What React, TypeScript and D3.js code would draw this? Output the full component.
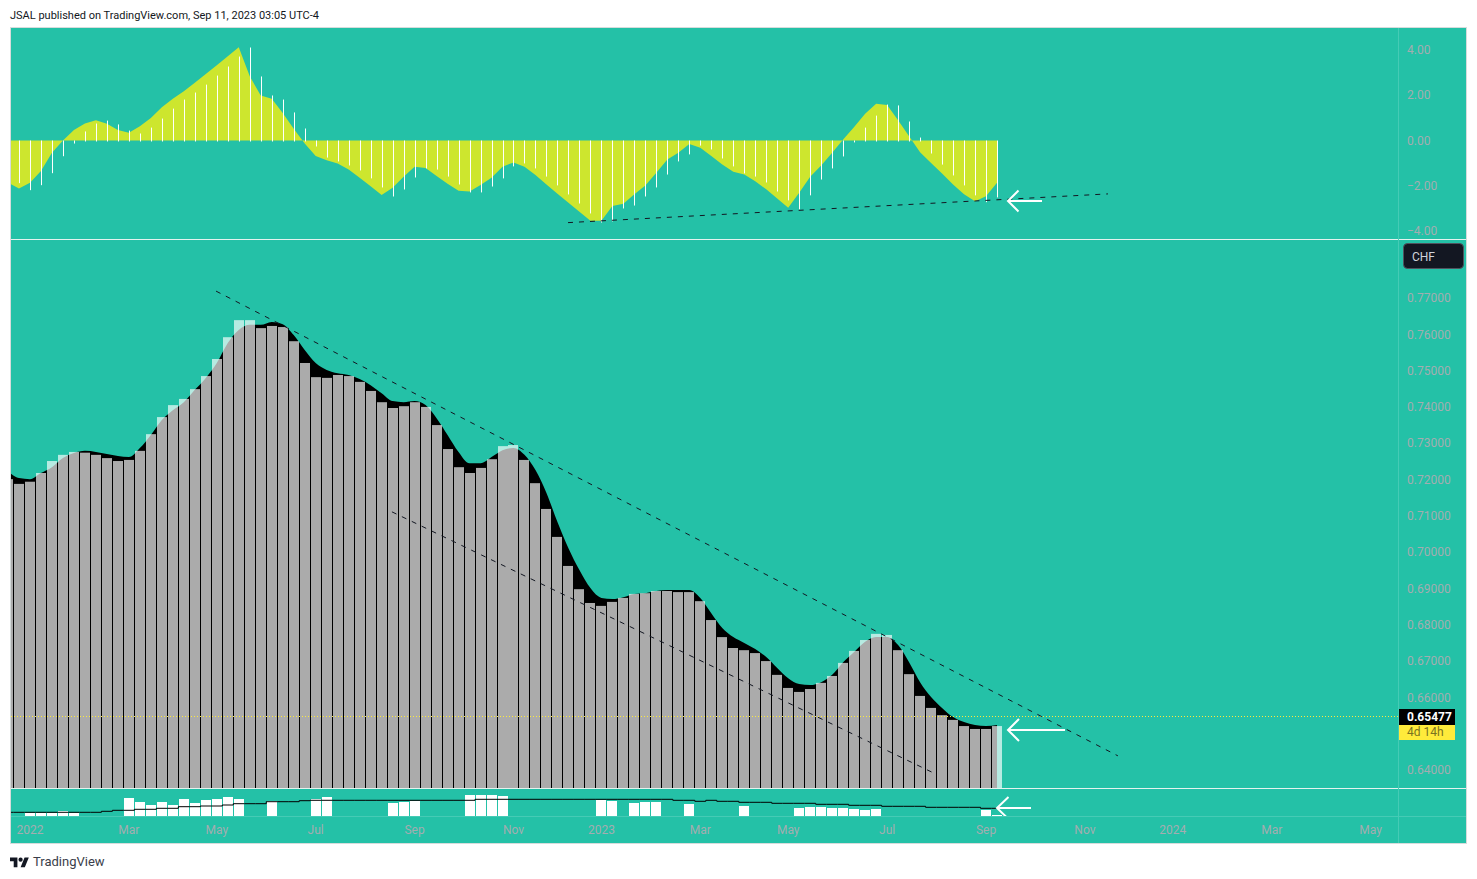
import * as d3 from 'd3';

const WIDTH = 1477;
const HEIGHT = 879;

// weekly bars
const barTops = [
    0.7201, 0.7188, 0.7194, 0.7218, 0.7251, 0.7268, 0.7276, 0.7274, 0.7268, 0.7259,
    0.7251, 0.7254, 0.7279, 0.7325, 0.7372, 0.7405, 0.7422, 0.7449, 0.7485, 0.7532,
    0.7592, 0.7639, 0.7639, 0.7617, 0.7623, 0.762, 0.7581, 0.7521, 0.7482, 0.748,
    0.7488, 0.7485, 0.7469, 0.7444, 0.7413, 0.7397, 0.7402, 0.7413, 0.74, 0.735,
    0.7284, 0.7234, 0.7218, 0.7232, 0.7256, 0.7292, 0.7295, 0.7254, 0.719, 0.7119,
    0.7042, 0.6962, 0.6898, 0.686, 0.6852, 0.6863, 0.6874, 0.6885, 0.6887, 0.6893,
    0.6893, 0.689, 0.689, 0.6865, 0.6813, 0.6766, 0.6736, 0.673, 0.6722, 0.67,
    0.6662, 0.6626, 0.6615, 0.6623, 0.664, 0.6659, 0.6695, 0.6728, 0.6758, 0.6775,
    0.6772, 0.673, 0.6664, 0.6604, 0.6571, 0.6551, 0.6538, 0.6521, 0.6513, 0.6513,
    0.6521,
];

const smoothed = [
    0.7223, 0.7204, 0.7201, 0.7218, 0.7234, 0.7259, 0.7273, 0.7279, 0.7276, 0.727,
    0.7265, 0.7262, 0.7287, 0.7323, 0.7364, 0.7391, 0.7413, 0.7447, 0.748, 0.7521,
    0.7576, 0.7612, 0.7626, 0.7626, 0.7634, 0.7628, 0.7598, 0.7557, 0.7521, 0.7502,
    0.7493, 0.7488, 0.7477, 0.746, 0.7438, 0.7416, 0.7413, 0.7416, 0.7405, 0.7369,
    0.7323, 0.7276, 0.7245, 0.7245, 0.7262, 0.7281, 0.7287, 0.7268, 0.7226, 0.7163,
    0.7083, 0.7011, 0.6951, 0.6901, 0.6874, 0.6871, 0.6876, 0.6885, 0.6887, 0.6893,
    0.6896, 0.6896, 0.6896, 0.6874, 0.6832, 0.6791, 0.6766, 0.675, 0.6733, 0.6711,
    0.6681, 0.6653, 0.6637, 0.6634, 0.6642, 0.6662, 0.6697, 0.6725, 0.6753, 0.6766,
    0.6766, 0.6744, 0.6697, 0.6642, 0.6601, 0.6571, 0.6546, 0.6532, 0.6524, 0.6521,
    0.6524,
];

const oscHist = [
    -1.6, -1.84, -2.15, -1.93, -1.4, -0.65, -0.09, 0.4, 0.75, 0.88,
    0.71, 0.44, 0.31, 0.57, 0.97, 1.41, 1.81, 2.12, 2.47, 2.87,
    3.27, 3.71, 4.11, 2.83, 1.99, 1.81, 1.24, 0.53, -0.22, -0.71,
    -0.88, -1.06, -1.28, -1.63, -2.03, -2.43, -2.12, -1.59, -1.19, -1.24,
    -1.55, -1.9, -2.25, -2.25, -1.99, -1.63, -1.1, -0.97, -1.19, -1.55,
    -1.94, -2.34, -2.74, -3.18, -3.58, -3.53, -2.96, -2.83, -2.43, -2.03,
    -1.46, -0.88, -0.57, -0.18, -0.35, -0.75, -1.1, -1.41, -1.55, -1.81,
    -2.21, -2.6, -3.0, -2.38, -1.68, -1.19, -0.66, -0.04, 0.57, 1.1,
    1.59, 1.55, 0.84, 0.13, -0.53, -1.02, -1.5, -1.94, -2.38, -2.68,
    -2.47,
];

const oscArea = [
    -1.87, -2.12, -1.87, -1.35, -0.54, 0, 0.46, 0.75, 0.9, 0.74,
    0.46, 0.34, 0.63, 1.0, 1.47, 1.85, 2.18, 2.55, 2.94, 3.33,
    3.72, 4.12, 2.84, 1.99, 1.84, 1.22, 0.52, -0.13, -0.69, -0.87,
    -1.02, -1.28, -1.65, -2.02, -2.41, -2.09, -1.6, -1.16, -1.22, -1.57,
    -1.91, -2.22, -2.25, -1.97, -1.65, -1.16, -0.97, -1.16, -1.53, -1.94,
    -2.35, -2.75, -3.15, -3.55, -3.55, -2.9, -2.8, -2.38, -1.99, -1.43,
    -0.84, -0.54, -0.16, -0.32, -0.69, -1.06, -1.38, -1.5, -1.8, -2.16,
    -2.56, -2.97, -2.31, -1.6, -1.1, -0.54, 0.04, 0.6, 1.18, 1.62,
    1.57, 0.9, 0.19, -0.52, -0.99, -1.46, -1.94, -2.38, -2.68, -2.46,
    -1.87,
];

const volume = [
    0, 0, 3, 3, 3, 5, 3, 0, 0, 0,
    0, 18, 14, 11, 14, 11, 17, 13, 16, 17,
    19, 17, 0, 0, 15, 0, 0, 0, 17, 19,
    0, 0, 0, 0, 0, 13, 14, 15, 0, 0,
    0, 0, 21, 21, 21, 20, 0, 0, 0, 0,
    0, 0, 0, 0, 16, 15, 0, 13, 14, 14,
    0, 0, 12, 0, 0, 0, 0, 10, 0, 0,
    0, 0, 8, 9, 9, 8, 8, 7, 6, 7,
    0, 0, 0, 0, 0, 0, 0, 0, 0, 6,
    1,
];

const volumeAvg = [
    3.7, 3.7, 3.7, 3.7, 3.7, 3.7, 3.7, 3.7, 3.7, 4.7,
    5.7, 5.7, 6.7, 6.7, 7.7, 7.7, 9.3, 9.3, 10, 10,
    11, 12.3, 12.3, 12.3, 14.3, 14.3, 14.3, 15.3, 15.7, 15.7,
    15.7, 15.7, 15.7, 15.7, 15.7, 15.7, 15.7, 15.7, 15.7, 15.7,
    15.7, 15.7, 15.7, 16.7, 16.7, 16.7, 16.7, 16.7, 16.7, 16.7,
    16.7, 16.7, 16.7, 16.7, 16.7, 16.7, 16.7, 16.7, 16.7, 16.7,
    16.7, 15.7, 15.7, 14.7, 15.7, 14.7, 14.7, 13.7, 13.7, 13.7,
    12.7, 12.7, 12.7, 12.7, 11.7, 11.7, 11.7, 10.7, 10.7, 10.7,
    9.7, 9.7, 9.7, 9.7, 8.7, 8.7, 8.7, 8.7, 8.7, 7.7,
    7.7,
];

const priceTicks = [0.77, 0.76, 0.75, 0.74, 0.73, 0.72, 0.71, 0.7, 0.69, 0.68, 0.67, 0.66, 0.64];
const oscTicks = [4, 2, 0, -2, -4];
const timeLabels = ['2022', 'Mar', 'May', 'Jul', 'Sep', 'Nov', '2023', 'Mar', 'May', 'Jul', 'Sep', 'Nov', '2024', 'Mar', 'May'];
const timeIndex = [2, 11, 19, 28, 37, 46, 54, 63, 71, 80, 89, 98, 106, 115, 124];

const lastPrice = 0.65477;

// trend lines as [bar index, value]
const oscTrend: [number, number][] = [[50.96, -3.63], [100.1, -2.36]];
const priceTrendUpper: [number, number][] = [[18.93, 0.7719], [101.0, 0.6439]];
const priceTrendLower: [number, number][] = [[34.94, 0.7111], [84.08, 0.6394]];

// hand drawn arrows: bar index of the tip, value, then barb and shaft lengths
const TEAL = '#24c1a7';
const LIME = '#cde62e';
const AXIS_TEXT = '#a3adb0';
const PANE_LINE = '#e4f3ef';
const FAINT = '#45cbb5';
const FONT = 'Roboto, sans-serif';

const x = d3.scaleLinear().domain([0, 90]).range([8, 997]);
const yOsc = d3.scaleLinear().domain([-4, 4]).range([231, 50]);
const yPrice = d3.scaleLinear().domain([0.64, 0.77]).range([770, 298]);
const yVol = d3.scaleLinear().domain([0, 27]).range([816, 789]);

const PRICE_BOTTOM = 789;

const blackArea = d3
    .area<number>()
    .x((_, i) => x(i))
    .y0(PRICE_BOTTOM)
    .y1((d) => yPrice(d))
    .curve(d3.curveMonotoneX);

const oscPath = d3
    .area<number>()
    .x((_, i) => x(i))
    .y0(yOsc(0))
    .y1((d) => yOsc(d));

const volLine = d3
    .line<number>()
    .x((_, i) => x(i))
    .y((d) => yVol(d))
    .curve(d3.curveStep);

function Arrow({ tipX, tipY, barbX, barbY, tail }: { tipX: number; tipY: number; barbX: number; barbY: number; tail: number }) {
    return (
        <path
            d={`M${tipX + tail},${tipY}H${tipX}M${tipX + barbX},${tipY - barbY}L${tipX},${tipY}L${tipX + barbX},${tipY + barbY}`}
            fill="none"
            stroke="#fff"
            strokeWidth={2}
        />
    );
}

function Trend({ pts, y }: { pts: [number, number][]; y: d3.ScaleLinear<number, number> }) {
    return (
        <line
            x1={x(pts[0][0])}
            y1={y(pts[0][1])}
            x2={x(pts[1][0])}
            y2={y(pts[1][1])}
            stroke="#131722"
            strokeWidth={1}
            strokeDasharray="5 6"
        />
    );
}

export default function App() {
    return (
        <svg
            width={WIDTH}
            height={HEIGHT}
            viewBox={`0 0 ${WIDTH} ${HEIGHT}`}
            style={{ position: 'absolute', left: 0, top: 0, display: 'block', background: '#fff' }}
            fontFamily={FONT}
        >
            <defs>
                <clipPath id="oscPane">
                    <rect x={11} y={28} width={1388} height={211} />
                </clipPath>
                <clipPath id="pricePane">
                    <rect x={11} y={240} width={1388} height={549} />
                </clipPath>
                <clipPath id="volPane">
                    <rect x={11} y={790} width={1388} height={26} />
                </clipPath>
            </defs>

            <text x={10} y={19} fontSize={11} fill="#131722">
                JSAL published on TradingView.com, Sep 11, 2023 03:05 UTC-4
            </text>

            <rect x={10.5} y={27.5} width={1456} height={816} fill={TEAL} stroke="#d6dcdc" />

            {/* indicator pane */}
            <g clipPath="url(#oscPane)">
                <path d={oscPath(oscArea) ?? ''} fill={LIME} />
                {oscHist.map((d, i) => (
                    <rect
                        key={i}
                        x={Math.round(x(i))}
                        y={Math.min(yOsc(d), yOsc(0))}
                        width={1}
                        height={Math.abs(yOsc(d) - yOsc(0)) + 1}
                        fill="#fff"
                    />
                ))}
                <Trend pts={oscTrend} y={yOsc} />
                <Arrow tipX={1008} tipY={201} barbX={10.5} barbY={10.5} tail={34} />
            </g>

            {/* price pane */}
            <g clipPath="url(#pricePane)">
                <path d={blackArea(smoothed) ?? ''} fill="#000" />
                {barTops.map((d, i) => (
                    <rect
                        key={i}
                        x={Math.round(x(i) - 5)}
                        y={yPrice(d)}
                        width={10}
                        height={PRICE_BOTTOM - yPrice(d)}
                        fill="#fff"
                        fillOpacity={0.67}
                    />
                ))}
                <line
                    x1={11}
                    x2={1399}
                    y1={Math.round(yPrice(lastPrice)) + 0.5}
                    y2={Math.round(yPrice(lastPrice)) + 0.5}
                    stroke="#ffeb3b"
                    strokeDasharray="1 2"
                />
                <Trend pts={priceTrendUpper} y={yPrice} />
                <Trend pts={priceTrendLower} y={yPrice} />
                <Arrow tipX={1008} tipY={730} barbX={11} barbY={11} tail={57} />
            </g>

            {/* volume pane */}
            <g clipPath="url(#volPane)">
                {volume.map((d, i) =>
                    d > 0 ? (
                        <rect key={i} x={Math.round(x(i) - 5)} y={yVol(d)} width={10} height={yVol(0) - yVol(d)} fill="#fff" />
                    ) : null
                )}
                <path d={volLine(volumeAvg) ?? ''} fill="none" stroke="#000" strokeWidth={1} />
                <Arrow tipX={997} tipY={808} barbX={11.5} barbY={11} tail={34} />
            </g>

            {/* pane dividers */}
            <line x1={11} x2={1466} y1={239.5} y2={239.5} stroke={PANE_LINE} />
            <line x1={11} x2={1466} y1={788.5} y2={788.5} stroke={PANE_LINE} />
            <line x1={11} x2={1466} y1={816.5} y2={816.5} stroke={FAINT} />
            <line x1={1398.5} x2={1398.5} y1={28} y2={843} stroke={FAINT} />

            {/* axis labels */}
            {oscTicks.map((t) => (
                <text key={t} x={1407} y={yOsc(t)} dy="0.35em" fontSize={12} fill={AXIS_TEXT}>
                    {d3.format('.2f')(t).replace('-', '\u2212')}
                </text>
            ))}
            {priceTicks.map((t) => (
                <text key={t} x={1407} y={yPrice(t)} dy="0.35em" fontSize={12} fill={AXIS_TEXT}>
                    {d3.format('.5f')(t)}
                </text>
            ))}
            {timeLabels.map((t, i) => (
                <text key={i} x={x(timeIndex[i])} y={830} dy="0.35em" fontSize={12} textAnchor="middle" fill={AXIS_TEXT}>
                    {t}
                </text>
            ))}

            {/* currency tag */}
            <rect x={1403.5} y={243.5} width={60} height={25} rx={4} fill="#131722" stroke="#50535e" />
            <text x={1412} y={256.5} dy="0.35em" fontSize={12} fill="#d1d4dc">
                CHF
            </text>

            {/* last price tag */}
            <rect x={1399} y={709} width={56} height={16} fill="#000" />
            <rect x={1399} y={725} width={56} height={15} fill="#ffeb3b" />
            <text x={1407} y={717} dy="0.35em" fontSize={12} fontWeight={700} fill="#fff">
                {d3.format('.5f')(lastPrice)}
            </text>
            <text x={1407} y={732} dy="0.35em" fontSize={12} fill="#7a7320">
                4d 14h
            </text>

            {/* footer */}
            <g transform="translate(10,855.5) scale(0.53)" fill="#131722">
                <path d="M14 22H7V11H0V4h14v18zM28 22h-8l7.5-18h8L28 22z" />
                <circle cx={20} cy={8} r={4} />
            </g>
            <text x={33} y={866} fontSize={13} fill="#3a3e4a">
                TradingView
            </text>
        </svg>
    );
}
